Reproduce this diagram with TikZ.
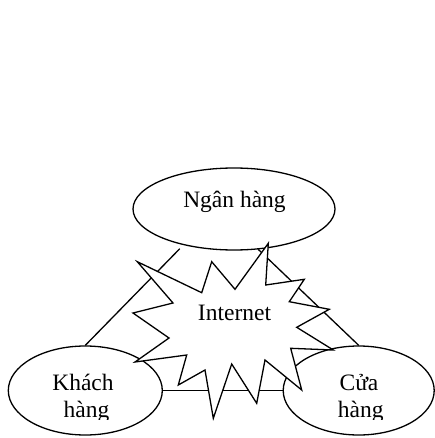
\documentclass[tikz,border=0pt]{standalone}
\usepackage{fontspec}
\setmainfont{Liberation Serif}
\usetikzlibrary{shapes.geometric}
\begin{document}
\begin{tikzpicture}[x=1pt,y=-1pt, line width=1.3pt,
  oval/.style={ellipse, draw, fill=white, inner sep=0pt, line width=1.3pt},
  lbl/.style={anchor=base, inner sep=0pt, font=\fontsize{23.5}{28}\selectfont},
  link/.style={draw, line width=1.3pt},
  burst/.style={draw, fill=white, line width=1.3pt, line join=miter}]
\useasboundingbox (0,0) rectangle (435,438);
% ovals
\node[oval, minimum width=202pt, minimum height=82pt] (n) at (234,209) {};
\node[oval, minimum width=154pt, minimum height=89pt] (k) at (85.3,390.5) {};
\node[oval, minimum width=151pt, minimum height=89pt] (c) at (358.7,390.5) {};
% connectors
\draw[link] (k.north) -- ([yshift=-4.5pt]n.213);
\draw[link] (c.north) -- (n.301);
\draw[link] (k.east) -- (c.west);
% burst
\draw[burst] (137.3,261.7) -- (201.7,292.7) -- (211.7,261.7) -- (235,289.3)
  -- (268.3,243.3) -- (265.7,285) -- (304.3,279.3) -- (289.3,301.7)
  -- (329.3,309.3) -- (296.7,327.3) -- (333.3,350) -- (290.7,348.3)
  -- (301.7,390) -- (265,360) -- (256.7,403.3) -- (231.7,364)
  -- (213.3,418.3) -- (205,370) -- (178.3,385) -- (186.7,355)
  -- (135,362) -- (169,338) -- (133,313) -- (173,303) -- cycle;
\node[lbl] (it) at (234.5,320.7) {Internet};
% labels
\node[lbl] (nt) at (234.5,207.3) {Ngân hàng};
\node[lbl] (kt1) at (83,390.7) {Khách};
\node[lbl] (ct1) at (359,390.7) {Cửa};
\begin{scope}
\clip (0,0) rectangle (435,419.5);
\node[lbl] (kt2) at (86.5,417.3) {hàng};
\node[lbl] (ct2) at (360.8,417.3) {hàng};
\end{scope}
\end{tikzpicture}
\end{document}
